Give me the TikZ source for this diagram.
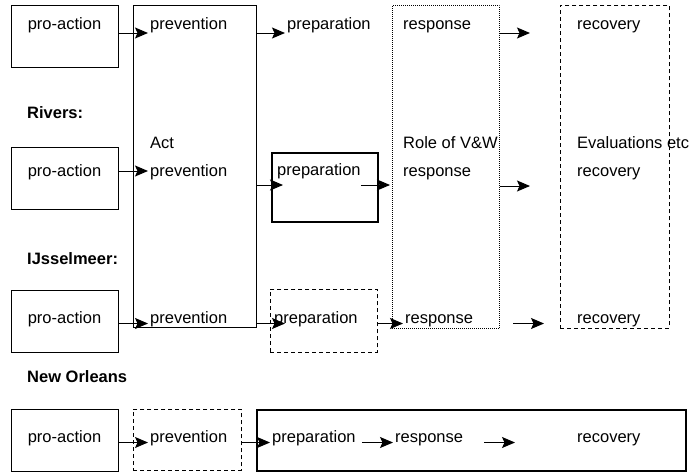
\documentclass[tikz,border=0pt]{standalone}
\usepackage{fontspec}
\setmainfont{Liberation Sans}
\usetikzlibrary{arrows.meta,positioning}

\tikzset{
  box/.style={draw,line width=0.9pt,inner sep=0pt,anchor=north west},
  thickbox/.style={box,line width=1.7pt},
  dashbox/.style={box,dash pattern=on 4pt off 3pt},
  dotbox/.style={box,dash pattern=on 0.8pt off 1.2pt},
  lbl/.style={inner sep=0pt,anchor=base west,font=\fontsize{16.5}{20}\selectfont},
  head/.style={lbl,font=\fontsize{16.5}{20}\selectfont\bfseries},
  arr/.style={line width=1pt,shorten >=2pt,-{Stealth[length=13pt,width=11pt,inset=2.5pt]}}
}

\begin{document}
\begin{tikzpicture}[x=1pt,y=-1pt]
  \useasboundingbox (0,0) rectangle (693,472);
  \foreach \r/\y/\b in {1/5/29,2/147/176,3/290/323,4/409/442}{
    \node[box,minimum width=107pt,minimum height=62pt] (pa\r) at (11,\y) {};
    \node[lbl,anchor=base] (pt\r) at (64.5,\b) {pro-action};
  }
  \node[box,minimum width=123pt,minimum height=322pt] (prev) at (133,5) {};
  \node[dotbox,minimum width=107pt,minimum height=323pt] (resp) at (392,5) {};
  \node[dashbox,minimum width=109pt,minimum height=323pt] (rec) at (560,5) {};
  \node[thickbox,minimum width=106pt,minimum height=69pt] (prep2) at (271,152) {};
  \node[dashbox,minimum width=107pt,minimum height=63pt] (prep3) at (270,289) {};
  \node[dashbox,minimum width=108pt,minimum height=61pt] (prev4) at (133,409) {};
  \node[thickbox,minimum width=429pt,minimum height=61pt] (rest4) at (256,409) {};

  \node[lbl] (pv1) at (150,29) {prevention};
  \node[lbl] (pp1) at (287,29) {preparation};
  \node[lbl] (rs1) at (403,29) {response};
  \node[lbl] (rc1) at (577,29) {recovery};

  \node[head] (rivers) at (27,118) {Rivers:};
  \node[lbl] (act) at (150,148) {Act};
  \node[lbl] (role) at (403,148) {Role of V\&W};
  \node[lbl] (eval) at (577,148) {Evaluations etc};
  \node[lbl] (pv2) at (150,176) {prevention};
  \node[lbl] (pp2) at (277,175) {preparation};
  \node[lbl] (rs2) at (403,176) {response};
  \node[lbl] (rc2) at (577,176) {recovery};

  \node[head] (ijs) at (27,264) {IJsselmeer:};
  \node[lbl] (pv3) at (150,323) {prevention};
  \node[lbl] (pp3) at (274,323) {preparation};
  \node[lbl] (rs3) at (405,323) {response};
  \node[lbl] (rc3) at (577,323) {recovery};

  \node[head] (nola) at (27,382) {New Orleans};
  \node[lbl] (pv4) at (150,442) {prevention};
  \node[lbl] (pp4) at (272,442) {preparation};
  \node[lbl] (rs4) at (395,442) {response};
  \node[lbl] (rc4) at (577,442) {recovery};

  \coordinate (y1) at (0,33);
  \coordinate (y2a) at (0,171);
  \coordinate (y2b) at (0,185);
  \coordinate (y3) at (0,323.5);
  \coordinate (y4) at (0,442.5);
  \coordinate (e1) at (532,33);
  \coordinate (e2) at (532,186);
  \coordinate (e2b) at (285,185);
  \coordinate (e3b) at (287,323.5);
  \coordinate (s3) at (513,323.5);
  \coordinate (e3) at (546,323.5);
  \coordinate (s4) at (484,442.5);
  \coordinate (e4) at (517,442.5);

  \draw[arr] (pa1.east |- y1) -- (pv1.west |- y1);
  \draw[arr] (prev.east |- y1) -- (pp1.west |- y1);
  \draw[arr] (resp.east |- y1) -- (e1);

  \draw[arr] (pa2.east |- y2a) -- (pv2.west |- y2a);
  \draw[arr] (prev.east |- y2b) -- (e2b);
  \draw[arr] (pp2.east |- y2b) -- (resp.west |- y2b);
  \draw[arr] (resp.east |- e2) -- (e2);

  \draw[arr] (pa3.east |- y3) -- (pv3.west |- y3);
  \draw[arr] (prev.east |- y3) -- (e3b);
  \draw[arr] (prep3.east |- y3) -- (rs3.west |- y3);
  \draw[arr] (s3) -- (e3);

  \draw[arr] (pa4.east |- y4) -- (pv4.west |- y4);
  \draw[arr] (prev4.east |- y4) -- (pp4.west |- y4);
  \draw[arr] ([xshift=6pt]pp4.east |- y4) -- (rs4.west |- y4);
  \draw[arr] (s4) -- (e4);
\end{tikzpicture}
\end{document}
